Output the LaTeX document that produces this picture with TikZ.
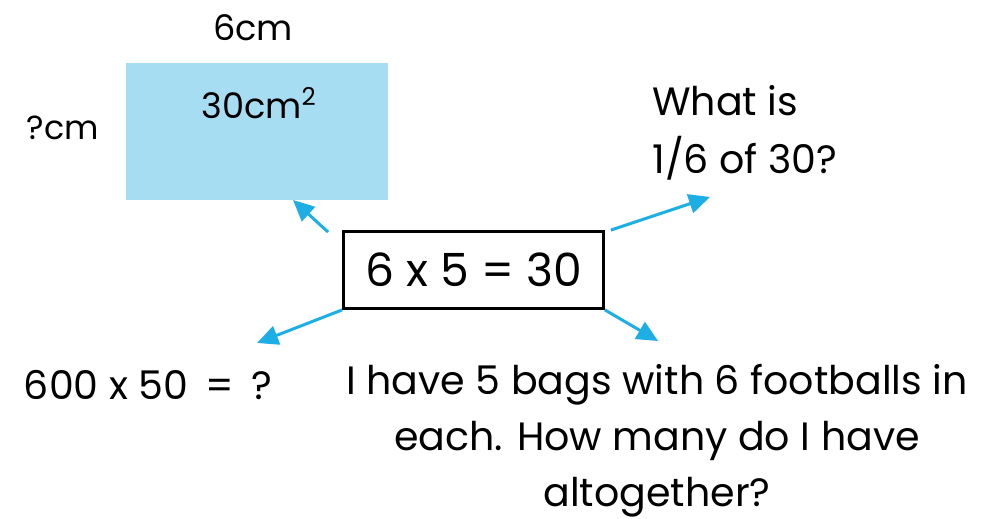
\documentclass[tikz,border=0pt]{standalone}
\usepackage{fontspec}
\setmainfont{Poppins}
\usetikzlibrary{arrows.meta,positioning}
\definecolor{areablue}{HTML}{A6DDF3}
\definecolor{arrblue}{HTML}{1EAEE6}

\begin{document}
\begin{tikzpicture}[x=0.02cm,y=-0.02cm,every node/.style={font=\fontsize{20}{26}\selectfont},
   bx/.style={rectangle,draw,line width=1.6pt,minimum width=260*0.02cm,minimum height=77*0.02cm,inner sep=0pt},
   ar/.style={draw=arrblue,line width=1.7pt,-{Triangle[length=12pt,width=11pt]}},
   txt/.style={inner sep=0pt,anchor=center}]
  \useasboundingbox (0,0) rectangle (983,519);
  \node[fill=areablue,inner sep=0pt,minimum width=262*0.02cm,minimum height=137*0.02cm] (area) at (257,131.5) {};
  \node[txt] (areatxt) at (259,103) {30cm\textsuperscript{2}};
  \node[txt] (top) at (253,28) {6cm};
  \node[txt,font=\fontsize{19}{26}\selectfont] (side) at (63,128) {?cm};
  \node[bx,font=\fontsize{26}{30}\selectfont] (eqn) at (473.5,270) {6 x 5 = 30};
  \node[inner sep=0pt,align=left,anchor=west,font=\fontsize{22.5}{33}\selectfont] (frac) at (652,133) {What is\\1/6 of 30?};
  \node[txt,font=\fontsize{22.5}{26}\selectfont] (mult) at (148,385) {600 x 50 \,=\, ?};
  \node[inner sep=0pt,align=center,anchor=north,font=\fontsize{22.5}{32}\selectfont] (story) at (657,364) {I have 5 bags with 6 footballs in\\each. How many do I have\\altogether?};
  \coordinate (e1) at (293,200);
  \coordinate (e2) at (710,197);
  \coordinate (e3) at (257,343);
  \coordinate (e4) at (658,341);
  \draw[ar] ([xshift=-14*0.02cm,yshift=-2*0.02cm]eqn.north west)--(e1);
  \draw[ar] ([xshift=6*0.02cm]eqn.north east)--(e2);
  \draw[ar] (eqn.south west)--(e3);
  \draw[ar] (eqn.south east)--(e4);
\end{tikzpicture}
\end{document}
